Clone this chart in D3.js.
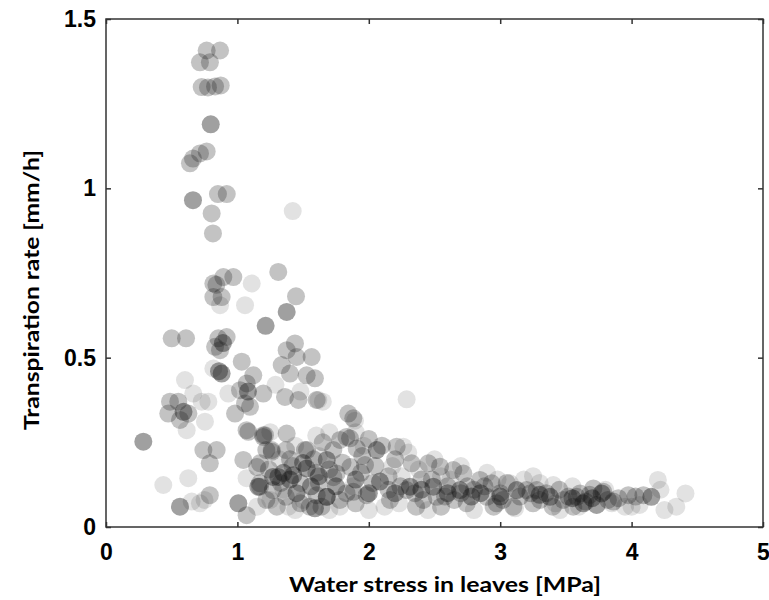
<!DOCTYPE html>
<html><head><meta charset="utf-8">
<script src="https://cdn.jsdelivr.net/npm/d3@7"></script>
<style>body{margin:0;background:#fff}</style></head>
<body><svg id="c" width="769" height="600"></svg>
<script>
const xTicks=[0,1,2,3,4,5];
const yTicks=[0,0.5,1,1.5];
const yTickLabels=["0","0.5","1","1.5"];
const xTitle="Water stress in leaves [MPa]";
const yTitle="Transpiration rate [mm/h]";

// three shade groups of points [water stress MPa, transpiration mm/h]
const lightPoints=[
[1.421,0.933],[0.868,0.655],[1.058,0.655],[1.109,0.719],[0.817,0.468],[0.601,0.434],[0.931,0.394],[0.664,0.394],[0.728,0.370],[0.779,0.370],[0.614,0.286],[0.753,0.311],[1.250,0.28],[1.290,0.42],[1.480,0.40],
[0.436,0.124],[0.626,0.144],[0.652,0.075],[0.715,0.070],[1.070,0.144],[1.388,0.060],[0.750,0.080],
[1.616,0.375],[1.650,0.370],[1.895,0.314],[2.288,0.377],[1.440,0.240],[1.600,0.270],[1.350,0.110],[1.500,0.080],[1.700,0.050],[1.780,0.060],[2.000,0.050],[2.230,0.070],[1.250,0.080],[1.960,0.240],[2.300,0.220],[1.150,0.060],[1.440,0.050],[2.250,0.150],[1.700,0.280],[1.880,0.120],
[2.263,0.237],[3.075,0.129],[3.404,0.124],[3.113,0.055],[4.200,0.139],[4.410,0.099],[4.250,0.050],[4.340,0.060],[4.060,0.065],[3.455,0.050],[2.500,0.200],[2.700,0.180],[2.900,0.160],[3.300,0.130],[3.550,0.120],[3.800,0.110],[4.000,0.060],[2.450,0.050],[2.800,0.050],[3.250,0.150],[4.220,0.110],[3.950,0.060],[3.600,0.060],
[1.320,0.200],[1.620,0.210],[2.120,0.060],[2.380,0.170],[2.620,0.140],[2.980,0.140],[3.180,0.140],[3.420,0.070],[3.850,0.070],[1.900,0.280],[2.550,0.150],[2.180,0.180]
];
const mediumPoints=[
[0.766,1.407],[0.868,1.407],[0.715,1.372],[0.791,1.372],[0.728,1.299],[0.776,1.298],[0.830,1.301],[0.873,1.304],[0.766,1.109],[0.715,1.103],[0.662,1.088],[0.639,1.074],[0.852,0.983],[0.919,0.983],[0.804,0.926],[0.814,0.867],
[1.311,0.753],[0.893,0.738],[0.969,0.738],[0.817,0.719],[0.840,0.715],[0.817,0.679],[0.880,0.679],[1.446,0.681],[0.500,0.557],[0.609,0.557],[0.855,0.557],[0.918,0.561],[0.830,0.532],[0.868,0.522],[1.438,0.542],[1.375,0.522],[1.451,0.502],[1.565,0.502],[1.337,0.478],[1.033,0.488],[1.121,0.448],[1.071,0.424],[1.400,0.453],[1.527,0.448],[1.590,0.439],[1.020,0.404],[1.197,0.394],[1.362,0.384],[1.464,0.375],[1.603,0.375],[0.487,0.370],[0.550,0.370],[0.627,0.335],[0.563,0.316],[0.474,0.335],[0.982,0.335],[1.058,0.365],[1.096,0.355],[1.083,0.281],[1.197,0.271],[1.375,0.276],[1.844,0.335],[1.882,0.321],[0.741,0.227],[0.842,0.227],[0.790,0.188],[1.045,0.198],[1.261,0.227],
[0.790,0.094],[1.070,0.035],[1.172,0.188],[1.197,0.266],[1.070,0.286],[1.172,0.129],
[1.210,0.271],[1.261,0.222],[1.514,0.227],[1.172,0.119],[1.755,0.158],[1.603,0.094],[1.680,0.089],[1.781,0.257],[1.857,0.262],[1.908,0.232],[1.971,0.183],[1.984,0.094],[2.161,0.080],[1.882,0.104],[2.212,0.237],[2.288,0.109],[1.730,0.147],[1.860,0.177],[1.830,0.100],[1.480,0.130],[1.370,0.089],[1.270,0.109],[1.150,0.177],[1.220,0.227],[1.530,0.227],[1.370,0.227],[1.830,0.266],[1.730,0.227],[1.400,0.200],[1.600,0.160],[1.650,0.250],[1.950,0.210],[2.050,0.180],[2.150,0.150],[2.100,0.240],[1.800,0.190],[2.200,0.200],[1.550,0.060],[1.300,0.060],[1.900,0.070],[2.150,0.110],[1.240,0.170],[1.620,0.130],[2.000,0.260],
[2.326,0.188],[2.453,0.188],[2.542,0.178],[2.517,0.089],[2.415,0.080],[2.643,0.168],[2.720,0.158],[2.745,0.070],[2.846,0.139],[2.935,0.129],[2.897,0.089],[3.200,0.109],[3.278,0.109],[3.480,0.080],[3.556,0.060],[3.250,0.070],[2.973,0.070],[3.709,0.114],[3.861,0.075],[3.975,0.094],[3.582,0.089],[3.303,0.080],[3.607,0.099],[3.785,0.104],[4.090,0.094],[2.600,0.120],[2.800,0.110],[3.000,0.100],[3.050,0.130],[2.400,0.140],[2.650,0.080],[3.150,0.090],[3.350,0.100],[3.450,0.110],[3.650,0.075],[3.900,0.085],[2.550,0.060],[2.350,0.100],[3.100,0.060],[2.750,0.120],
[1.330,0.130],[1.420,0.180],[1.580,0.200],[1.700,0.170],[1.780,0.080],[1.940,0.160],[2.030,0.130],[2.240,0.120],[2.480,0.140],[2.580,0.090],[2.700,0.100],[2.880,0.120],[3.020,0.080],[3.230,0.100],[3.520,0.090],[3.680,0.095],[3.820,0.080],[4.030,0.090],[1.220,0.080],[1.480,0.070],[2.360,0.060],[2.950,0.060],[3.400,0.060],[1.640,0.060]
];
const darkPoints=[
[0.797,1.189],[0.662,0.965],
[1.375,0.635],[1.215,0.594],[0.890,0.543],[0.880,0.453],[0.284,0.252],[0.860,0.460],[1.080,0.400],[0.590,0.340],
[0.563,0.060],[1.007,0.070],[1.159,0.119],[1.590,0.055],
[1.311,0.148],[1.425,0.153],[1.527,0.173],[1.271,0.148],[1.500,0.189],[1.680,0.198],[1.680,0.089],[2.060,0.227],[2.085,0.134],[1.350,0.160],[1.560,0.120],[1.900,0.140],[2.000,0.100],[1.450,0.100],[1.750,0.120],
[2.313,0.119],[2.491,0.119],[2.694,0.109],[3.126,0.109],[3.379,0.089],[3.772,0.099],[3.734,0.065],[3.633,0.070],[4.150,0.089],[2.600,0.100],[2.850,0.100],[3.000,0.090],[2.400,0.110],[3.700,0.085],
[1.400,0.140],[1.620,0.150],[2.200,0.100],[2.780,0.090],[3.300,0.095],[3.550,0.085]
];
const groups=[
 {name:"light",points:lightPoints,alpha:0.12},
 {name:"medium",points:mediumPoints,alpha:0.25},
 {name:"dark",points:darkPoints,alpha:0.40}
];

const L=106,R=763,T=19,B=527;
const x=d3.scaleLinear().domain([0,5]).range([L,R]);
const y=d3.scaleLinear().domain([0,1.5]).range([B,T]);
const svg=d3.select("#c");

const all=[];
groups.forEach(g=>g.points.forEach(p=>all.push({x:p[0],y:p[1],a:g.alpha})));
svg.append("g").selectAll("circle").data(all).join("circle")
 .attr("cx",d=>x(d.x)).attr("cy",d=>y(d.y)).attr("r",9)
 .attr("fill","#111").attr("fill-opacity",d=>d.a);

const tickFont="'Liberation Sans', Arial, sans-serif";
const ax=svg.append("g").attr("transform",`translate(0,${B})`)
 .call(d3.axisBottom(x).tickValues(xTicks).tickFormat(d3.format("d")).tickSizeInner(-5).tickSizeOuter(0).tickPadding(17));
const ay=svg.append("g").attr("transform",`translate(${L},0)`)
 .call(d3.axisLeft(y).tickValues(yTicks).tickFormat((d,i)=>yTickLabels[i]).tickSizeInner(-5).tickSizeOuter(0).tickPadding(10));
const at=svg.append("g").attr("transform",`translate(0,${T})`)
 .call(d3.axisTop(x).tickValues(xTicks).tickFormat("").tickSizeInner(-5).tickSizeOuter(0));
const ar=svg.append("g").attr("transform",`translate(${R},0)`)
 .call(d3.axisRight(y).tickValues(yTicks).tickFormat("").tickSizeInner(-5).tickSizeOuter(0));
[ax,ay,at,ar].forEach(a=>{
 a.select(".domain").remove();
 a.selectAll("line").attr("stroke","#333").attr("stroke-width",1.5);
 a.selectAll("text").attr("font-family",tickFont).attr("font-weight","bold").attr("font-size",23).attr("fill","#000");
});
svg.append("rect").attr("x",L).attr("y",T).attr("width",R-L).attr("height",B-T)
 .attr("fill","none").attr("stroke","#333").attr("stroke-width",1.5);

const titleFont="Lato, 'Open Sans', sans-serif";
svg.append("text").attr("x",445).attr("y",592).attr("text-anchor","middle")
 .attr("font-family",titleFont).attr("font-weight","bold").attr("font-size",21)
 .attr("textLength",312).attr("lengthAdjust","spacingAndGlyphs").text(xTitle);
svg.append("text").attr("transform","translate(39,290) rotate(-90)").attr("text-anchor","middle")
 .attr("font-family",titleFont).attr("font-weight","bold").attr("font-size",21)
 .attr("textLength",280).attr("lengthAdjust","spacingAndGlyphs").text(yTitle);
</script></body></html>
